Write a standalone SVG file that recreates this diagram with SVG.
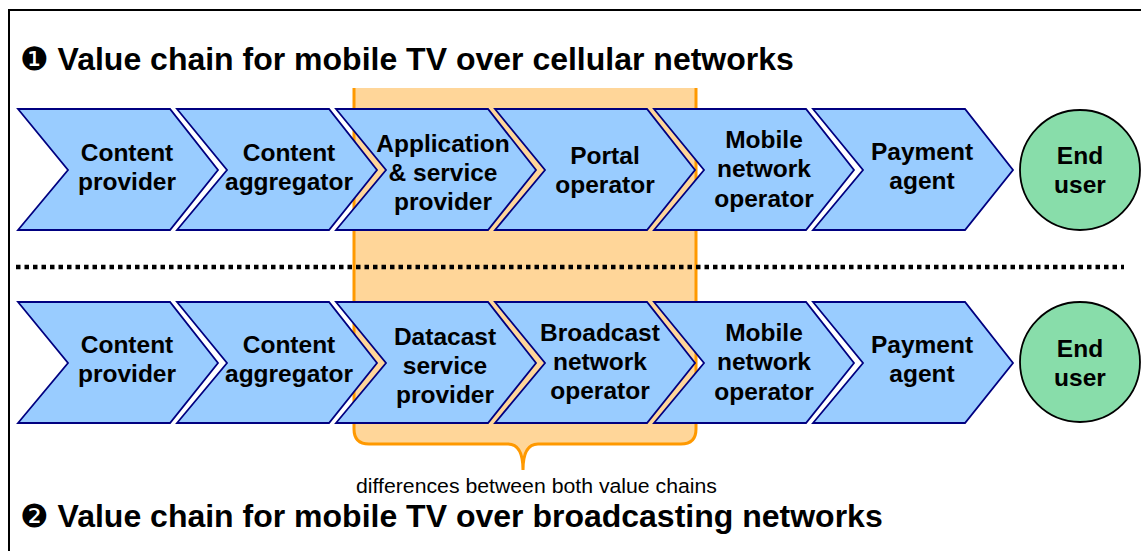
<svg xmlns="http://www.w3.org/2000/svg" width="1141" height="551" viewBox="0 0 1141 551">
<style>
.chev{fill:#99CCFF;stroke:#000080;stroke-width:1.8;stroke-linejoin:miter}
.lbl{font-family:"Liberation Sans",Arial,sans-serif;font-weight:bold;font-size:24.5px;fill:#000;text-anchor:middle}
.title{font-family:"Liberation Sans",Arial,sans-serif;font-weight:bold;font-size:32px;fill:#000}
.num{font-family:"DejaVu Sans",sans-serif;font-weight:normal}
.user{fill:#88DDAA;stroke:#000;stroke-width:1.8}
</style>
<defs>
<polygon id="chevron" points="0,0 152,0 200,61 152,121 0,121 50,61"/>
</defs>
<rect width="1141" height="551" fill="#fff"/>
<path d="M9,551 L9,10 L1141,10" fill="none" stroke="#000" stroke-width="2"/>

<g id="differences">
<path d="M354,88 L354,429 Q354,444 369,444 L508,444 Q523,444 523,470 Q523,444 538,444 L681,444 Q696,444 696,429 L696,88" fill="#FFD699" stroke="#FF9900" stroke-width="3"/>
<text x="536.5" y="493" font-family="Liberation Sans,Arial,sans-serif" font-size="20.5" text-anchor="middle" textLength="361" lengthAdjust="spacingAndGlyphs">differences between both value chains</text>
</g>

<g id="title1"><text class="title" x="20" y="70"><tspan class="num">❶</tspan> Value chain for mobile TV over cellular networks</text></g>

<g id="connectors">
<line x1="16" y1="267" x2="1124" y2="267" stroke="#000" stroke-width="4.5" stroke-dasharray="4.5 4"/>
</g>

<!-- Row 1 -->
<g id="r1-content-provider"><use href="#chevron" class="chev" x="18" y="109"/><text class="lbl" x="127" y="161">Content</text><text class="lbl" x="127" y="190">provider</text></g>
<g id="r1-content-aggregator"><use href="#chevron" class="chev" x="177" y="109"/><text class="lbl" x="289" y="161">Content</text><text class="lbl" x="289" y="190">aggregator</text></g>
<g id="r1-app-service-provider"><use href="#chevron" class="chev" x="336" y="109"/><text class="lbl" x="443" y="152">Application</text><text class="lbl" x="443" y="181">&amp; service</text><text class="lbl" x="443" y="210">provider</text></g>
<g id="r1-portal-operator"><use href="#chevron" class="chev" x="495" y="109"/><text class="lbl" x="605" y="164">Portal</text><text class="lbl" x="605" y="193">operator</text></g>
<g id="r1-mobile-network-operator"><use href="#chevron" class="chev" x="654" y="109"/><text class="lbl" x="764" y="148">Mobile</text><text class="lbl" x="764" y="177">network</text><text class="lbl" x="764" y="207">operator</text></g>
<g id="r1-payment-agent"><use href="#chevron" class="chev" x="813" y="109"/><text class="lbl" x="922" y="160">Payment</text><text class="lbl" x="922" y="189">agent</text></g>
<g id="r1-end-user"><circle class="user" cx="1080" cy="170" r="60"/><text class="lbl" x="1080" y="164">End</text><text class="lbl" x="1080" y="193">user</text></g>

<!-- Row 2 -->
<g id="r2-content-provider"><use href="#chevron" class="chev" x="18" y="302"/><text class="lbl" x="127" y="353">Content</text><text class="lbl" x="127" y="382">provider</text></g>
<g id="r2-content-aggregator"><use href="#chevron" class="chev" x="177" y="302"/><text class="lbl" x="289" y="353">Content</text><text class="lbl" x="289" y="382">aggregator</text></g>
<g id="r2-datacast-service-provider"><use href="#chevron" class="chev" x="336" y="302"/><text class="lbl" x="445" y="345">Datacast</text><text class="lbl" x="445" y="374">service</text><text class="lbl" x="445" y="403">provider</text></g>
<g id="r2-broadcast-network-operator"><use href="#chevron" class="chev" x="495" y="302"/><text class="lbl" x="600" y="341">Broadcast</text><text class="lbl" x="600" y="370">network</text><text class="lbl" x="600" y="399">operator</text></g>
<g id="r2-mobile-network-operator"><use href="#chevron" class="chev" x="654" y="302"/><text class="lbl" x="764" y="341">Mobile</text><text class="lbl" x="764" y="370">network</text><text class="lbl" x="764" y="400">operator</text></g>
<g id="r2-payment-agent"><use href="#chevron" class="chev" x="813" y="302"/><text class="lbl" x="922" y="353">Payment</text><text class="lbl" x="922" y="382">agent</text></g>
<g id="r2-end-user"><circle class="user" cx="1080" cy="362" r="60"/><text class="lbl" x="1080" y="357">End</text><text class="lbl" x="1080" y="386">user</text></g>

<g id="title2"><text class="title" x="20" y="527"><tspan class="num">❷</tspan> Value chain for mobile TV over broadcasting networks</text></g>
</svg>
